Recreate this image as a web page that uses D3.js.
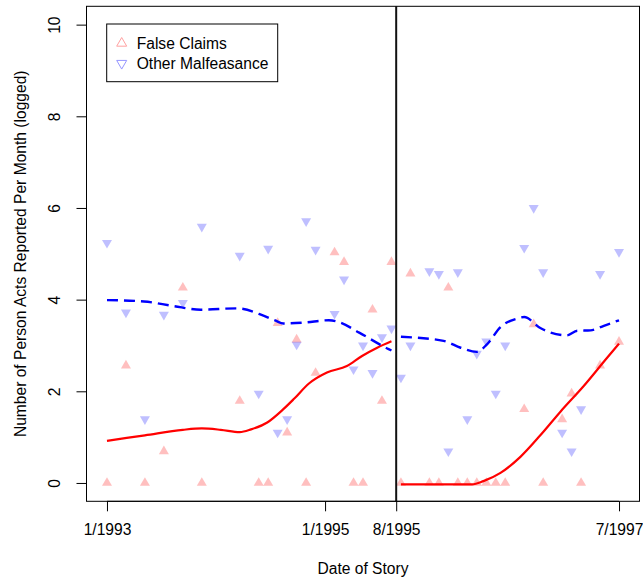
<!DOCTYPE html>
<html>
<head>
<meta charset="utf-8">
<script src="https://cdn.jsdelivr.net/npm/d3@7"></script>
<style>
  html, body { margin: 0; padding: 0; background: #fff; }
  svg { display: block; font-family: "Liberation Sans", Arial, Helvetica, sans-serif; }
</style>
</head>
<body>
<svg id="chart" width="643" height="579"></svg>
<script>
// Month index counted from January 1993 (0 = 1/1993)
const months = [0, 2, 4, 6, 8, 10, 14, 16, 17, 18, 19, 20, 21, 22, 24, 25, 26, 27, 28, 29, 30,
                31, 32, 34, 35, 36, 37, 38, 39, 40, 41, 42, 44, 45, 46, 48, 49, 50, 52, 54];

// log count of person acts reported per month
const falseClaims = [0, 2.56, 0, 0.69, 4.26, 0, 1.79, 0, 0, 3.49, 1.10, 3.13, 0, 2.40, 5.03, 4.82, 0, 0, 3.78, 1.79, 4.82,
                     0, 4.57, 0, 0, 4.26, 0, 0, 0, 0, 0, 0, 1.61, 3.46, 0, 1.39, 1.95, 0, 2.56, 3.08];
const otherMalfeasance = [5.24, 3.72, 1.39, 3.67, 3.93, 5.59, 4.96, 1.95, 5.11, 1.10, 1.39, 3.02, 5.71, 5.09, 3.69, 4.44, 2.48, 3.00, 2.40, 3.18, 3.37,
                          2.30, 3.00, 4.62, 4.56, 0.69, 4.60, 1.39, 2.82, 3.09, 1.95, 3.00, 5.13, 6.00, 4.60, 1.10, 0.69, 1.61, 4.56, 5.04];

// Smoothed trends, before and after the break
const falseFitPre = [[0, 0.92], [4, 1.04], [8, 1.16], [10, 1.19], [12, 1.16], [14, 1.11], [15.2, 1.17], [16.9, 1.32],
                     [18.6, 1.61], [19.7, 1.83], [21.3, 2.17], [23.2, 2.41], [25.3, 2.55], [26.9, 2.77], [28.5, 2.95], [30, 3.09]];
const falseFitPost = [[31, -0.03], [38.5, -0.03], [39.7, 0.04], [41.5, 0.22], [43.6, 0.57], [45.7, 1.04],
                      [47.8, 1.55], [50.3, 2.12], [52.7, 2.72], [54, 3.04]];
const otherFitPre = [[0, 3.99], [3.9, 3.96], [7, 3.86], [9.9, 3.78], [13.7, 3.81], [16.5, 3.65], [17.8, 3.54], [18.6, 3.48],
                     [20.8, 3.50], [23.4, 3.55], [24.6, 3.50], [26.6, 3.28], [29.7, 2.92], [30, 2.89]];
const otherFitPost = [[31, 3.19], [35.5, 3.10], [37.3, 2.95], [39, 2.86], [40.1, 3.03], [41.5, 3.40], [43.3, 3.59], [44, 3.62],
                      [45.7, 3.38], [48.5, 3.22], [49.6, 3.32], [51, 3.33], [52.4, 3.43], [54, 3.55]];

const breakMonth = 30.5;
const xTickValues = [0, 23, 30.5, 54];
const xTickLabels = ["1/1993", "1/1995", "8/1995", "7/1997"];
const yTickValues = [0, 2, 4, 6, 8, 10];
const seriesNames = ["False Claims", "Other Malfeasance"];

const svg = d3.select("#chart");
const box = { left: 86.5, right: 639.5, top: 6.3, bottom: 501.3 };
const fs = 15.6;

// 4% padding around data ranges, like base graphics
const xPad = 54 * 0.04, yPad = 10 * 0.04;
const x = d3.scaleLinear().domain([0 - xPad, 54 + xPad]).range([box.left, box.right]);
const y = d3.scaleLinear().domain([0 - yPad, 10 + yPad]).range([box.bottom, box.top]);

const redFill = "rgba(255,0,0,0.25)";
const blueFill = "rgba(0,0,255,0.25)";

// triangles with centroid at the data point
const side = 10, h = side * Math.sqrt(3) / 2;
const upTri = `M0,${-2 * h / 3}L${side / 2},${h / 3}L${-side / 2},${h / 3}Z`;
const downTri = `M0,${2 * h / 3}L${side / 2},${-h / 3}L${-side / 2},${-h / 3}Z`;

const plot = svg.append("g");

// points
plot.selectAll("path.fc").data(months.map((m, i) => [m, falseClaims[i]])).join("path")
  .attr("class", "fc").attr("d", upTri)
  .attr("transform", d => `translate(${x(d[0])},${y(d[1])})`)
  .attr("fill", redFill);
plot.selectAll("path.om").data(months.map((m, i) => [m, otherMalfeasance[i]])).join("path")
  .attr("class", "om").attr("d", downTri)
  .attr("transform", d => `translate(${x(d[0])},${y(d[1])})`)
  .attr("fill", blueFill);

// trend lines
const line = d3.line().x(d => x(d[0])).y(d => y(d[1])).curve(d3.curveMonotoneX);
[falseFitPre, falseFitPost].forEach(seg => {
  plot.append("path").attr("d", line(seg)).attr("fill", "none")
    .attr("stroke", "#ff0000").attr("stroke-width", 2.2);
});
[otherFitPre, otherFitPost].forEach(seg => {
  plot.append("path").attr("d", line(seg)).attr("fill", "none")
    .attr("stroke", "#0000ff").attr("stroke-width", 2.4)
    .attr("stroke-dasharray", "11,6");
});

// break line
plot.append("line")
  .attr("x1", x(breakMonth)).attr("x2", x(breakMonth))
  .attr("y1", box.top).attr("y2", box.bottom)
  .attr("stroke", "#111").attr("stroke-width", 2);

// frame
svg.append("rect")
  .attr("x", box.left).attr("y", box.top)
  .attr("width", box.right - box.left).attr("height", box.bottom - box.top)
  .attr("fill", "none").attr("stroke", "#000").attr("stroke-width", 1);

// x axis
const xAxis = svg.append("g").attr("transform", `translate(0,${box.bottom})`)
  .call(d3.axisBottom(x).tickValues(xTickValues).tickSize(10).tickSizeOuter(0)
    .tickFormat((d, i) => xTickLabels[i]));
xAxis.select(".domain").attr("d", `M${x(xTickValues[0])},0H${x(xTickValues[xTickValues.length - 1])}`);
xAxis.selectAll("text").attr("font-size", fs).attr("font-family", "Liberation Sans, Arial, sans-serif")
  .attr("fill", "#000").attr("y", 23).attr("dy", "0.71em");
xAxis.selectAll("line").attr("stroke", "#000");

// y axis
const yAxis = svg.append("g").attr("transform", `translate(${box.left},0)`)
  .call(d3.axisLeft(y).tickValues(yTickValues).tickSize(10).tickSizeOuter(0));
yAxis.select(".domain").attr("d", `M0,${y(0)}V${y(10)}`);
yAxis.selectAll("line").attr("stroke", "#000");
yAxis.selectAll("text")
  .attr("font-size", fs).attr("font-family", "Liberation Sans, Arial, sans-serif").attr("fill", "#000")
  .attr("x", null).attr("dy", null)
  .attr("text-anchor", "middle")
  .attr("transform", "translate(-27,0) rotate(-90)");

// axis titles
svg.append("text")
  .attr("x", (box.left + box.right) / 2).attr("y", 574)
  .attr("text-anchor", "middle").attr("font-size", fs).text("Date of Story");
svg.append("text")
  .attr("transform", `translate(26,${(box.top + box.bottom) / 2}) rotate(-90)`)
  .attr("text-anchor", "middle").attr("font-size", fs)
  .text("Number of Person Acts Reported Per Month (logged)");

// legend
const lg = svg.append("g");
lg.append("rect").attr("x", 106.7).attr("y", 24).attr("width", 171).attr("height", 57.7)
  .attr("fill", "#fff").attr("stroke", "#000").attr("stroke-width", 1);
const legendRows = [
  { name: seriesNames[0], shape: upTri, color: "rgb(255,160,160)" },
  { name: seriesNames[1], shape: downTri, color: "rgb(150,150,255)" }
];
legendRows.forEach((r, i) => {
  const cy = 43.3 + i * 20;
  lg.append("path").attr("d", r.shape)
    .attr("transform", `translate(121.7,${cy})`)
    .attr("fill", "none").attr("stroke", r.color).attr("stroke-width", 1);
  lg.append("text").attr("x", 136.7).attr("y", cy + 5.6)
    .attr("font-size", fs).text(r.name);
});
</script>
</body>
</html>
